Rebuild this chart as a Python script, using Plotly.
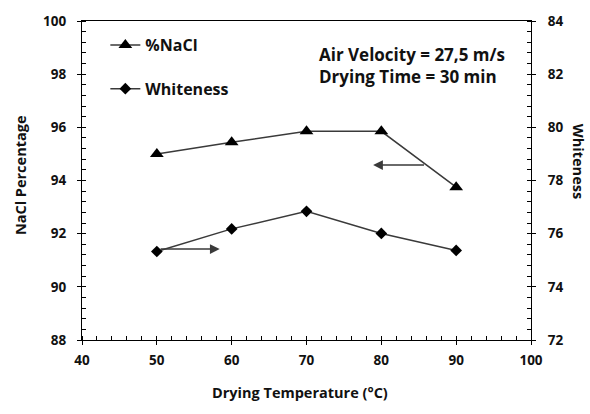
import plotly.graph_objects as go

# Data
temperature = [50, 60, 70, 80, 90]
nacl_pct = [95.0, 95.44, 95.85, 95.85, 93.75]
whiteness = [75.33, 76.18, 76.84, 76.01, 75.37]

x_ticks = [40, 50, 60, 70, 80, 90, 100]
y_left_ticks = [88, 90, 92, 94, 96, 98, 100]
y_right_ticks = [72, 74, 76, 78, 80, 82, 84]

FONT = "Open Sans"
LINE = "#3a3a3a"

fig = go.Figure()
fig.add_trace(go.Scatter(
    x=temperature, y=nacl_pct, name="%NaCl", mode="lines+markers",
    line=dict(color=LINE, width=1.5),
    marker=dict(symbol="triangle-up", size=12, color="black"),
    legendgroup="a", yaxis="y"))
fig.add_trace(go.Scatter(
    x=temperature, y=whiteness, name="Whiteness", mode="lines+markers",
    line=dict(color=LINE, width=1.5),
    marker=dict(symbol="diamond", size=9, color="black"),
    legendgroup="b", yaxis="y2"))

tickfont = dict(family=FONT, size=13.5, color="#111111", weight="bold")
fig.update_layout(
    width=590, height=414,
    margin=dict(l=82, r=59, t=13, b=74),
    paper_bgcolor="white", plot_bgcolor="white",
    font=dict(family=FONT, color="#111111"),
    showlegend=True,
    legend=dict(x=0.052, y=0.978, xanchor="left", yanchor="top",
                bgcolor="rgba(0,0,0,0)", tracegroupgap=20,
                font=dict(family=FONT, size=16, color="#111111", weight="bold")),
    xaxis=dict(range=[40, 100], tickvals=x_ticks, ticks="outside", ticklen=4,
               tickcolor="black", showline=True, linecolor="black", linewidth=1.3,
               mirror=True, showgrid=False, zeroline=False, tickfont=tickfont,
               ticklabelstandoff=4,
               minor=dict(dtick=2, ticks="inside", ticklen=4, tickcolor="black")),
    yaxis=dict(range=[88, 100], tickvals=y_left_ticks, ticks="outside", ticklen=4,
               tickcolor="black", showline=True, linecolor="black", linewidth=1.3,
               showgrid=False, zeroline=False, tickfont=tickfont,
               ticklabelstandoff=8,
               minor=dict(dtick=0.4, tick0=88, ticks="inside", ticklen=4, tickcolor="black")),
    yaxis2=dict(range=[72, 84], tickvals=y_right_ticks, ticks="outside", ticklen=4,
                tickcolor="black", showline=True, linecolor="black", linewidth=1.3,
                overlaying="y", side="right", showgrid=False, zeroline=False,
                tickfont=tickfont, ticklabelstandoff=9,
                minor=dict(dtick=0.4, tick0=72, ticks="inside", ticklen=4, tickcolor="black")),
)

titlefont = dict(family=FONT, size=14.5, color="#111111", weight="bold")
fig.add_annotation(text="Drying Temperature (°C)", xref="paper", yref="paper",
                   x=0.486, y=-0.165, xanchor="center", yanchor="middle",
                   showarrow=False, font=titlefont)
fig.add_annotation(text="NaCl Percentage", xref="paper", yref="paper",
                   x=-0.138, y=0.517, xanchor="center", yanchor="middle",
                   textangle=-90, showarrow=False, font=titlefont)
fig.add_annotation(text="Whiteness", xref="paper", yref="paper",
                   x=1.106, y=0.56, xanchor="center", yanchor="middle",
                   textangle=90, showarrow=False, font=titlefont)
fig.add_annotation(text="Air Velocity = 27,5 m/s<br>Drying Time = 30 min",
                   xref="paper", yref="paper", x=0.524, y=0.859, xanchor="left",
                   yanchor="middle", align="left", showarrow=False,
                   font=dict(family=FONT, size=17, color="#111111", weight="bold"))

# Arrows pointing to the axis each series belongs to
fig.add_annotation(x=78.9, y=94.58, ax=85.9, ay=94.58, xref="x", yref="y",
                   axref="x", ayref="y", text="", showarrow=True,
                   arrowhead=2, arrowsize=1.3, arrowwidth=1.5, arrowcolor=LINE)
fig.add_annotation(x=58.4, y=75.42, ax=50.3, ay=75.42, xref="x", yref="y2",
                   axref="x", ayref="y2", text="", showarrow=True,
                   arrowhead=2, arrowsize=1.3, arrowwidth=1.5, arrowcolor=LINE)

fig.write_html("out.html")
